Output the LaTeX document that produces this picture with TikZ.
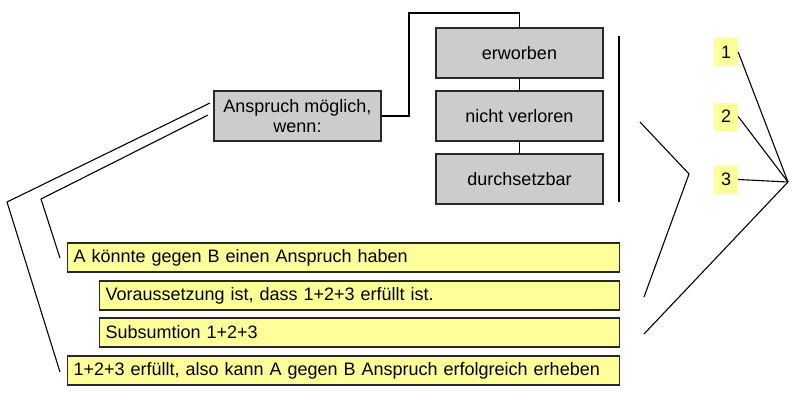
\documentclass[tikz,border=0pt]{standalone}
\usepackage{fontspec}
\setmainfont{Liberation Sans}
\usetikzlibrary{positioning,calc}
\definecolor{cGrau}{RGB}{204,204,204}
\definecolor{cGelb}{RGB}{255,255,153}
\definecolor{cRand}{RGB}{40,40,40}
\tikzset{
  gbox/.style={draw=cRand,line width=1.1pt,fill=cGrau,minimum width=167pt,minimum height=50pt,
               inner sep=2pt,align=center,font=\fontsize{18}{20}\selectfont},
  bar/.style={draw=cRand,line width=1.1pt,fill=cGelb,minimum height=29pt,anchor=west,
              inner xsep=6pt,inner ysep=0pt,align=left,font=\fontsize{18}{20}\selectfont},
  barL/.style={bar,text width=540pt},
  barS/.style={bar,text width=508pt},
  nr/.style={fill=cGelb,minimum width=24pt,minimum height=28pt,inner sep=0pt,
             font=\fontsize{18}{20}\selectfont},
  link/.style={-,black,line width=1.1pt},
}
\begin{document}
\begin{tikzpicture}[x=1pt,y=-1pt]
  \useasboundingbox (0,0) rectangle (800,405);
  % grey boxes
  \node[gbox] (ansp) at (297.5,116) {Anspruch möglich,\\wenn:};
  \node[gbox] (erw)  at (519.5,53)  {erworben};
  \node[gbox] (nv)   at (519.5,116) {nicht verloren};
  \node[gbox] (ds)   at (519.5,179) {durchsetzbar};
  % yellow bars
  \node[barL] (b1) at (67,257.5) {A könnte gegen B einen Anspruch haben};
  \node[barS] (b2) at (99,295.5) {Voraussetzung ist, dass 1+2+3 erfüllt ist.};
  \node[barS] (b3) at (99,332.5) {Subsumtion 1+2+3};
  \node[barL] (b4) at (67,370.5) {1+2+3 erfüllt, also kann A gegen B Anspruch erfolgreich erheben};
  % numbers
  \node[nr] (n1) at (726,52)    {1};
  \node[nr] (n2) at (726,116.5) {2};
  \node[nr] (n3) at (726,179.5) {3};

  \coordinate (k1) at (409,13);
  \draw[link] (ansp.east) -| (k1) -| (erw.north);
  \draw[link] (erw) -- (nv);
  \draw[link] (nv) -- (ds);

  % left brackets
  \coordinate (o1) at (210,103); \coordinate (o2) at (7,202);  \coordinate (o3) at (60,372);
  \coordinate (i1) at (208,115); \coordinate (i2) at (41,199); \coordinate (i3) at (60,258);
  \draw[link] (o1) -- (o2) -- (o3);
  \draw[link] (i1) -- (i2) -- (i3);

  % right side
  \coordinate (v1) at (619,36); \coordinate (v2) at (619,202);
  \draw[link] (v1) -- (v2);
  \coordinate (z1) at (640,122); \coordinate (z2) at (689,174); \coordinate (z3) at (644,297);
  \draw[link] (z1) -- (z2) -- (z3);
  \coordinate (fan) at (788,182); \coordinate (z4) at (644,334);
  \foreach \n in {n1,n2,n3}
    \draw[link] (\n.east) -- (fan);
  \draw[link] (fan) -- (z4);
\end{tikzpicture}
\end{document}
